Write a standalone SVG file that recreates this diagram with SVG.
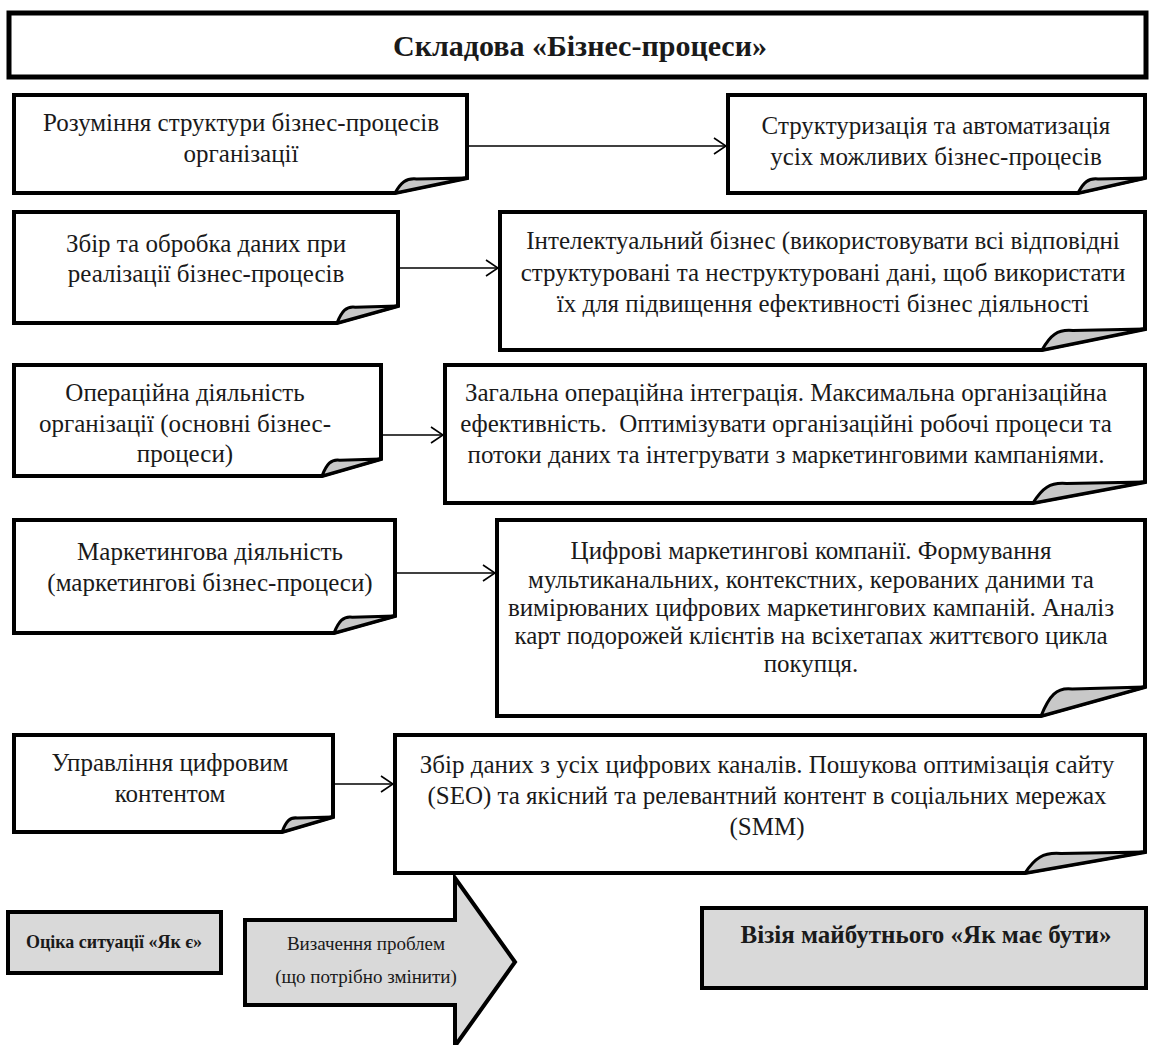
<svg xmlns="http://www.w3.org/2000/svg" width="1154" height="1045" viewBox="0 0 1154 1045">
<style>
.box{fill:#ffffff;stroke:#000;stroke-width:4;stroke-linejoin:miter}
.flap{fill:#c8c8c8;stroke:#000;stroke-width:3;stroke-linejoin:round}
.gray{fill:#d9d9d9;stroke:#000;stroke-width:4}
text{font-family:'Liberation Serif','Times New Roman','DejaVu Serif',serif;fill:#1a1a1a;text-anchor:middle}
.t{font-size:25px}
.tb{font-weight:bold}
.s{font-size:19px}
.conn{stroke:#000;stroke-width:1.6;fill:none}
</style>
<defs>
<marker id="ah" markerUnits="userSpaceOnUse" markerWidth="14" markerHeight="18" refX="13" refY="9" orient="auto">
<path d="M1,1 L13,9 L1,17" fill="none" stroke="#000" stroke-width="1.6"/>
</marker>
</defs>
<rect width="1154" height="1045" fill="#ffffff"/>

<g id="title">
<rect x="9" y="13" width="1137" height="64" fill="#fff" stroke="#000" stroke-width="5"/>
<text class="tb" x="580" y="56" font-size="30">Складова «Бізнес-процеси»</text>
</g>

<g id="n1l">
<path class="box" d="M14,95 H467 V178 L395,193 H14 Z"/>
<path class="flap" d="M395,193 C400.8,182.5 405.8,178 416.6,179 L467,178 Z"/>
<text class="t" x="241" y="131">Розуміння структури бізнес-процесів</text>
<text class="t" x="241" y="162">організації</text>
</g>
<g id="n1r">
<path class="box" d="M728,95 H1145 V178 L1078,193 H728 Z"/>
<path class="flap" d="M1078,193 C1083.4,182.5 1088,178 1098,179 L1145,178 Z"/>
<text class="t" x="936" y="134">Структуризація та автоматизація</text>
<text class="t" x="936" y="165">усіх можливих бізнес-процесів</text>
</g>

<g id="n2l">
<path class="box" d="M14,212 H398 V306 L337,323 H14 Z"/>
<path class="flap" d="M337,323 C341.9,311.1 346.2,306 355.3,307.2 L398,306 Z"/>
<text class="t" x="206" y="252">Збір та обробка даних при</text>
<text class="t" x="206" y="282">реалізації бізнес-процесів</text>
</g>
<g id="n2r">
<path class="box" d="M500,212 H1145 V329 L1042,350 H500 Z"/>
<path class="flap" d="M1042,350 C1050.2,335.3 1057.4,329 1072.9,330.5 L1145,329 Z"/>
<text class="t" x="823" y="249">Інтелектуальний бізнес (використовувати всі відповідні</text>
<text class="t" x="823" y="281">структуровані та неструктуровані дані, щоб використати</text>
<text class="t" x="823" y="312">їх для підвищення ефективності бізнес діяльності</text>
</g>

<g id="n3l">
<path class="box" d="M14,365 H381 V459 L322,476 H14 Z"/>
<path class="flap" d="M322,476 C326.7,464.1 330.9,459 339.7,460.2 L381,459 Z"/>
<text class="t" x="185" y="401">Операційна діяльність</text>
<text class="t" x="185" y="432">організації (основні бізнес-</text>
<text class="t" x="185" y="462">процеси)</text>
</g>
<g id="n3r">
<path class="box" d="M445,365 H1145 V482 L1033,503 H445 Z"/>
<path class="flap" d="M1033,503 C1042,488.3 1049.8,482 1066.6,483.5 L1145,482 Z"/>
<text class="t" x="786" y="401">Загальна операційна інтеграція. Максимальна організаційна</text>
<text class="t" x="786" y="432" xml:space="preserve">ефективність.  Оптимізувати організаційні робочі процеси та</text>
<text class="t" x="786" y="463">потоки даних та інтегрувати з маркетинговими кампаніями.</text>
</g>

<g id="n4l">
<path class="box" d="M14,520 H395 V616 L334,633 H14 Z"/>
<path class="flap" d="M334,633 C338.9,621.1 343.2,616 352.3,617.2 L395,616 Z"/>
<text class="t" x="210" y="560">Маркетингова діяльність</text>
<text class="t" x="210" y="591">(маркетингові бізнес-процеси)</text>
</g>
<g id="n4r">
<path class="box" d="M497,520 H1145 V687 L1041,716 H497 Z"/>
<path class="flap" d="M1041,716 C1049.3,695.7 1056.6,687 1072.2,689 L1145,687 Z"/>
<text class="t" x="811" y="559">Цифрові маркетингові компанії. Формування</text>
<text class="t" x="811" y="588">мультиканальних, контекстних, керованих даними та</text>
<text class="t" x="811" y="616">вимірюваних цифрових маркетингових кампаній. Аналіз</text>
<text class="t" x="811" y="644">карт подорожей клієнтів на всіхетапах життєвого цикла</text>
<text class="t" x="811" y="672">покупця.</text>
</g>

<g id="n5l">
<path class="box" d="M14,735 H333 V817 L282,832 H14 Z"/>
<path class="flap" d="M282,832 C286.1,821.5 289.7,817 297.3,818 L333,817 Z"/>
<text class="t" x="170" y="771">Управління цифровим</text>
<text class="t" x="170" y="802">контентом</text>
</g>
<g id="n5r">
<path class="box" d="M395,735 H1145 V852 L1025,873 H395 Z"/>
<path class="flap" d="M1025,873 C1034.6,858.3 1043,852 1061,853.5 L1145,852 Z"/>
<text class="t" x="767" y="773">Збір даних з усіх цифрових каналів. Пошукова оптимізація сайту</text>
<text class="t" x="767" y="804">(SEO) та якісний та релевантний контент в соціальних мережах</text>
<text class="t" x="767" y="835">(SMM)</text>
</g>

<g id="connectors">
<line class="conn" x1="467" y1="146" x2="726" y2="146" marker-end="url(#ah)"/>
<line class="conn" x1="398" y1="268" x2="498" y2="268" marker-end="url(#ah)"/>
<line class="conn" x1="381" y1="435" x2="443" y2="435" marker-end="url(#ah)"/>
<line class="conn" x1="395" y1="573" x2="495" y2="573" marker-end="url(#ah)"/>
<line class="conn" x1="333" y1="784" x2="393" y2="784" marker-end="url(#ah)"/>
</g>

<g id="as-is">
<rect class="gray" x="8" y="912" width="213" height="61"/>
<text class="tb" x="114" y="948" font-size="18">Оціка ситуації «Як є»</text>
</g>
<g id="problems">
<path class="gray" d="M245,920 H455 V878 L515,962 L455,1046 V1005 H245 Z"/>
<text class="s" x="366" y="950">Визачення проблем</text>
<text class="s" x="366" y="983">(що потрібно змінити)</text>
</g>
<g id="to-be">
<rect class="gray" x="702" y="908" width="444" height="80"/>
<text class="tb" x="926" y="943" font-size="25">Візія майбутнього «Як має бути»</text>
</g>
</svg>
